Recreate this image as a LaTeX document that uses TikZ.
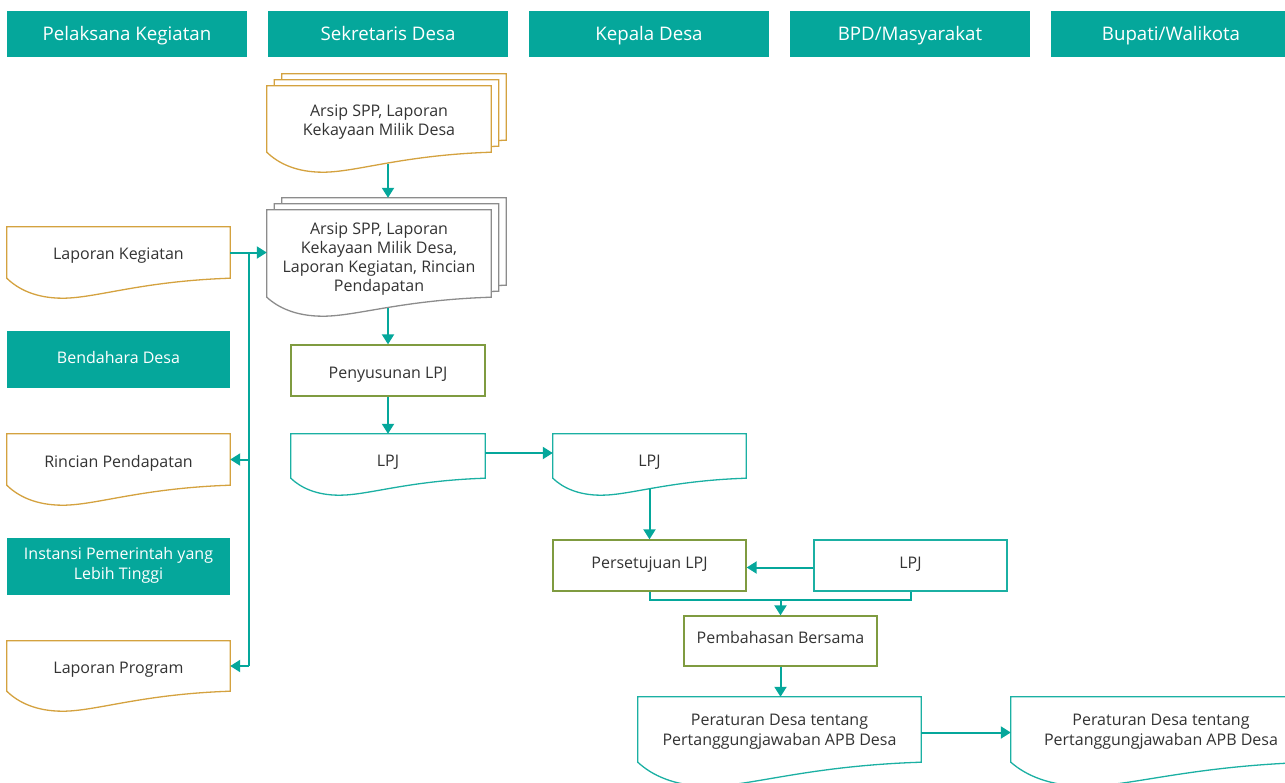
\documentclass[tikz,border=0pt]{standalone}
\usepackage{fontspec}
\setmainfont{Open Sans}
\usetikzlibrary{arrows.meta,calc}
\definecolor{tealh}{HTML}{05A79B}
\definecolor{tealo}{HTML}{1BB0A3}
\definecolor{goldo}{HTML}{D4A23F}
\definecolor{grayo}{HTML}{8C8C8C}
\definecolor{olive}{HTML}{7F9B40}
\definecolor{txt}{HTML}{333333}
% #1 style, #2 node, #3 depth, #4 dx, #5 dy (xy units)
\newcommand\docout[5]{%
  \draw[#1] let \p1=($(#2.south west)+(#4,#5)$), \p2=($(#2.north east)+(#4,#5)$), \n1={\x2-\x1} in
  (\p1) -- (\x1,\y2) -- (\p2) -- (\x2,\y1)
  .. controls (\x1+0.6*\n1,\y1-0.15*#3) and (\x1+0.4*\n1,\y1-#3) .. (\x1+0.25*\n1,\y1-#3)
  .. controls (\x1+0.13*\n1,\y1-#3) and (\x1+0.05*\n1,\y1-0.55*#3) .. (\p1) -- cycle;
}
\begin{document}
\begin{tikzpicture}[x=1pt,y=-1pt,
  hdr/.style={fill=tealh, minimum width=240pt, minimum height=46pt, inner sep=0pt},
  htxt/.style={text=white, inner sep=0pt, text height=15pt, text depth=2pt,
    font=\fontsize{18.7}{22}\selectfont},
  lane/.style={fill=tealh, inner sep=0pt},
  ltxt/.style={text=white, inner sep=0pt, align=center, font=\fontsize{16}{19.5}\selectfont},
  shp/.style={inner sep=0pt},
  tb/.style={inner sep=0pt, align=center, text=txt, font=\fontsize{16}{19.5}\selectfont},
  t1/.style={tb, text height=13.5pt, text depth=1.5pt},
  proc/.style={shp, draw=olive, line width=1.3pt},
  lpjbox/.style={shp, draw=tealo, line width=1.3pt},
  outl/.style={line width=1.3pt, fill=white},
  line/.style={draw=tealh, line width=2pt},
  arr/.style={line, -{Triangle[length=10pt,width=12pt]}}
]
\useasboundingbox (0,0) rectangle (1285,782);
\clip (0,0) rectangle (1285,782);

% headers
\node[hdr] (h1) at (127,34) {};
\node[hdr] (h2) at (388,34) {};
\node[hdr] (h3) at (649,34) {};
\node[hdr] (h4) at (910,34) {};
\node[hdr] (h5) at (1171,34) {};
\node[htxt] (th1) at (127,33.5) {Pelaksana Kegiatan};
\node[htxt] (th2) at (388,33.5) {Sekretaris Desa};
\node[htxt] (th3) at (649,33.5) {Kepala Desa};
\node[htxt] (th4) at (910,33.5) {BPD/Masyarakat};
\node[htxt] (th5) at (1171,33.5) {Bupati/Walikota};

% left column
\node[shp, minimum width=223pt, minimum height=51pt] (lk) at (118.5,252.5) {};
\docout{outl, draw=goldo}{lk}{20pt}{0}{0}
\node[t1] (tlk) at (118.5,253) {Laporan Kegiatan};

\node[lane, minimum width=223pt, minimum height=57pt] (bd) at (118.5,359.5) {};
\node[ltxt, text height=13.5pt, text depth=1.5pt] (tbd) at (118.5,357.5) {Bendahara Desa};

\node[shp, minimum width=223pt, minimum height=51pt] (rp) at (118.5,459.5) {};
\docout{outl, draw=goldo}{rp}{20pt}{0}{0}
\node[t1] (trp) at (118.5,461) {Rincian Pendapatan};

\node[lane, minimum width=223pt, minimum height=57pt] (ip) at (118.5,566.5) {};
\node[ltxt] (tip) at (118.5,565.5) {Instansi Pemerintah yang\\Lebih Tinggi};

\node[shp, minimum width=223pt, minimum height=50pt] (lp) at (118.5,666) {};
\docout{outl, draw=goldo}{lp}{20pt}{0}{0}
\node[t1] (tlp) at (118.5,667) {Laporan Program};

% multi documents
\node[shp, minimum width=224pt, minimum height=66pt] (ad1) at (379,119) {};
\docout{outl, draw=goldo}{ad1}{20pt}{15}{-12}
\docout{outl, draw=goldo}{ad1}{20pt}{7.5}{-6}
\docout{outl, draw=goldo}{ad1}{20pt}{0}{0}
\node[tb] (tad1) at (379,122) {Arsip SPP, Laporan\\Kekayaan Milik Desa};

\node[shp, minimum width=224pt, minimum height=87pt] (ad2) at (379,253.5) {};
\docout{outl, draw=grayo}{ad2}{19pt}{15}{-12}
\docout{outl, draw=grayo}{ad2}{19pt}{7.5}{-6}
\docout{outl, draw=grayo}{ad2}{19pt}{0}{0}
\node[tb, font=\fontsize{16}{19}\selectfont] (tad2) at (379,259.5) {Arsip SPP, Laporan\\Kekayaan Milik Desa,\\Laporan Kegiatan, Rincian\\Pendapatan};

\node[proc, minimum width=194pt, minimum height=51pt] (pl) at (388,370.5) {};
\node[t1] (tpl) at (388,372) {Penyusunan LPJ};

\node[shp, minimum width=194pt, minimum height=44pt] (lpj1) at (388,456) {};
\docout{outl, draw=tealo}{lpj1}{17pt}{0}{0}
\node[t1] (tlpj1) at (388,460) {LPJ};

\node[shp, minimum width=193pt, minimum height=44pt] (lpj2) at (649.5,456) {};
\docout{outl, draw=tealo}{lpj2}{17pt}{0}{0}
\node[t1] (tlpj2) at (649.5,460) {LPJ};

\node[proc, minimum width=193pt, minimum height=51pt] (ps) at (649.5,565.5) {};
\node[t1] (tps) at (649.5,562.5) {Persetujuan LPJ};
\node[lpjbox, minimum width=193pt, minimum height=51pt] (lpj3) at (910.5,565.5) {};
\node[t1] (tlpj3) at (910.5,562.5) {LPJ};
\node[proc, minimum width=193pt, minimum height=50pt] (pb) at (780.5,641) {};
\node[t1] (tpb) at (780.5,637.5) {Pembahasan Bersama};

\node[shp, minimum width=283pt, minimum height=65pt] (pd1) at (779.5,729.5) {};
\docout{outl, draw=tealo}{pd1}{24pt}{0}{0}
\node[tb] (tpd1) at (779.5,731.5) {Peraturan Desa tentang\\Pertanggungjawaban APB Desa};

\node[shp, minimum width=300pt, minimum height=65pt] (pd2) at (1161,729.5) {};
\docout{outl, draw=tealo}{pd2}{24pt}{0}{0}
\node[tb] (tpd2) at (1161,731.5) {Peraturan Desa tentang\\Pertanggungjawaban APB Desa};

% connectors
\coordinate (bus) at (249,0);
\draw[line] (lk.east -| bus) -- (lp.east -| bus);
\draw[arr] (lk.east) -- (lk.east -| ad2.west);
\draw[arr] (rp.east -| bus) -- (rp.east);
\draw[arr] (lp.east -| bus) -- (lp.east);

\draw[arr] ($(ad1.south)+(9,12)$) -- ($(ad2.north)+(9,-12)$);
\draw[arr] ($(ad2.south)+(9,11)$) -- (pl.north);
\draw[arr] (pl.south) -- (pl.south |- lpj1.north);
\draw[arr] ($(lpj1.east)+(0,-3)$) -- ($(lpj2.west)+(0,-3)$);
\draw[arr] ($(lpj2.south)+(0,11)$) -- (ps.north);
\draw[arr] ($(lpj3.west)+(0,2)$) -- ($(ps.east)+(0,2)$);
\coordinate (j) at ($(ps.south)+(0,8)$);
\draw[line] (ps.south) -- (j) -| (lpj3.south);
\draw[arr] (j -| pb.north) -- (pb.north);
\draw[arr] (pb.south) -- (pb.south |- pd1.north);
\draw[arr] ($(pd1.east)+(0,3)$) -- ($(pd2.west)+(0,3)$);
\end{tikzpicture}
\end{document}
